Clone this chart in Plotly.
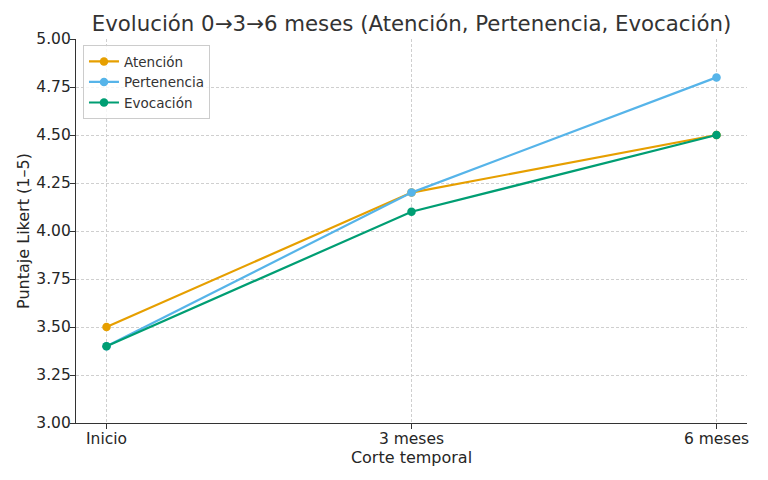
import plotly.graph_objects as go

categories = ["Inicio", "3 meses", "6 meses"]
atencion = [3.5, 4.2, 4.5]
pertenencia = [3.4, 4.2, 4.8]
evocacion = [3.4, 4.1, 4.5]
y_ticks = [3.00, 3.25, 3.50, 3.75, 4.00, 4.25, 4.50, 4.75, 5.00]

series = [
    ("Atención", atencion, "#E69F00"),
    ("Pertenencia", pertenencia, "#56B4E9"),
    ("Evocación", evocacion, "#009E73"),
]

fig = go.Figure()
for name, vals, color in series:
    fig.add_trace(go.Scatter(
        x=list(range(len(categories))), y=vals, name=name, mode="lines+markers",
        line=dict(color=color, width=2.2), marker=dict(color=color, size=8.5),
    ))

font = "DejaVu Sans, sans-serif"
# page body has an 8px default margin, margins compensate for it
fig.update_layout(
    width=768, height=480,
    margin=dict(l=68, r=29, t=31, b=65),
    paper_bgcolor="white", plot_bgcolor="white",
    font=dict(family=font, size=15.5, color="#262626"),
    title=dict(text="Evolución 0→3→6 meses (Atención, Pertenencia, Evocación)",
               x=0.5, xref="paper", xanchor="center", y=0.967, yanchor="middle",
               font=dict(size=21.3, color="#333333")),
    showlegend=True,
    legend=dict(x=0.0104, y=0.984, xanchor="left", yanchor="top",
                bgcolor="rgba(255,255,255,0.8)", bordercolor="#cccccc", borderwidth=1,
                font=dict(size=13.5, color="#333333"), tracegroupgap=0),
)
fig.update_xaxes(
    range=[-0.1, 2.1], tickmode="array", tickvals=list(range(len(categories))),
    ticktext=categories, showgrid=True, gridcolor="#cfcfcf", griddash="3px,2px",
    gridwidth=0.8,
    showline=True, linecolor="#333333", linewidth=1.2, ticks="outside", ticklen=5,
    tickcolor="#333333", zeroline=False, ticklabelstandoff=-4,
    title=dict(text="Corte temporal", font=dict(size=16), standoff=2),
)
fig.update_yaxes(
    range=[3.0, 5.0], tickmode="array", tickvals=y_ticks,
    ticktext=[f"{v:.2f}" for v in y_ticks], showgrid=True, gridcolor="#cfcfcf",
    griddash="3px,2px", gridwidth=0.8, showline=True, linecolor="#333333", linewidth=1.2,
    ticks="outside", ticklen=5, tickcolor="#333333", zeroline=False,
    ticklabelstandoff=-4,
    title=dict(text="Puntaje Likert (1–5)", font=dict(size=16), standoff=2),
)
fig.write_html("out.html")
